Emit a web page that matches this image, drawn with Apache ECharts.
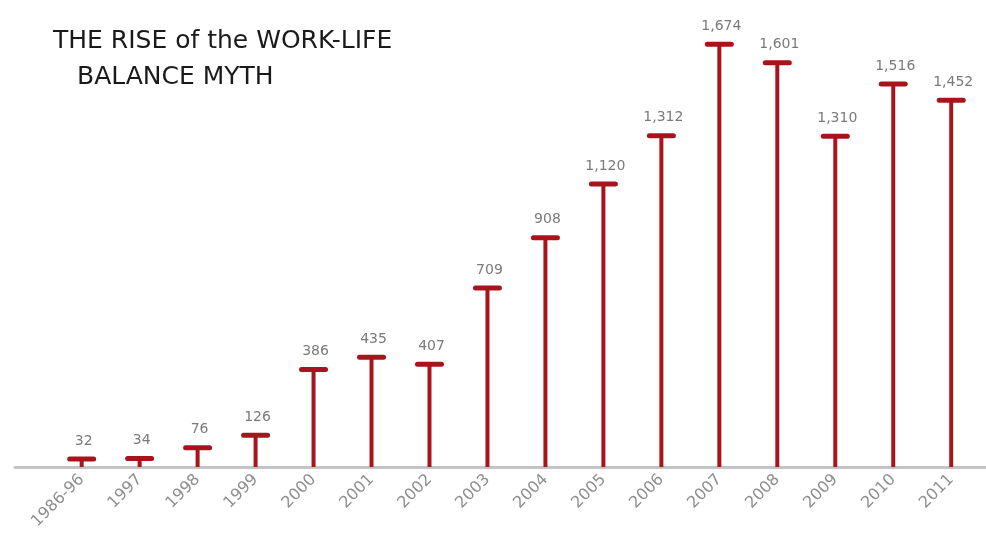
<!DOCTYPE html>
<html>
<head>
<meta charset="utf-8">
<script src="https://cdn.jsdelivr.net/npm/echarts@6/dist/echarts.min.js"></script>
<style>html,body{margin:0;padding:0;background:#fff}#c{width:986px;height:556px}</style>
</head>
<body>
<div id="c"></div>
<script>
const categories = ['1986-96','1997','1998','1999','2000','2001','2002','2003','2004','2005','2006','2007','2008','2009','2010','2011'];
const values = [32,34,76,126,386,435,407,709,908,1120,1312,1674,1601,1310,1516,1452];
const titleLine1 = 'THE RISE of the WORK-LIFE';
const titleLine2 = 'BALANCE MYTH';

const RED = '#a8141c';
const chart = echarts.init(document.getElementById('c'));
const seriesData = values.map((v, i) => [i, v]);
const fmt = v => v.toLocaleString('en-US');

chart.setOption({
  backgroundColor: '#fff',
  animation: false,
  title: [
    { text: titleLine1, left: 48, top: 24,
      textStyle: { fontFamily: 'DejaVu Sans', fontSize: 25, fontWeight: 'normal', color: '#1a1a1a' } },
    { text: titleLine2, left: 72, top: 60,
      textStyle: { fontFamily: 'DejaVu Sans', fontSize: 25, fontWeight: 'normal', color: '#1a1a1a' } }
  ],
  grid: { left: 15, right: 0, top: 25, bottom: 89, containLabel: false },
  xAxis: {
    type: 'value', min: -1.15, max: 15.6,
    splitLine: { show: false },
    axisLine: { show: true, onZero: false, lineStyle: { color: '#c4c4c4', width: 3 } },
    axisTick: { show: false },
    axisLabel: {
      customValues: categories.map((c, i) => i),
      formatter: v => categories[Math.round(v)] || '',
      rotate: 45, color: '#8e8e8e', fontFamily: 'DejaVu Sans', fontSize: 16, margin: 10
    }
  },
  yAxis: {
    type: 'value', min: 0, max: 1750, show: false, splitLine: { show: false }
  },
  series: [{
    type: 'custom',
    data: seriesData,
    renderItem: function (params, api) {
      const x = api.value(0), v = api.value(1);
      const base = api.coord([x, 0]);
      const top = api.coord([x, v]);
      return {
        type: 'group',
        children: [
          { type: 'line', shape: { x1: base[0], y1: base[1], x2: top[0], y2: top[1] },
            style: { stroke: RED, lineWidth: 4, lineCap: 'butt' } },
          { type: 'line', shape: { x1: top[0] - 12, y1: top[1], x2: top[0] + 12, y2: top[1] },
            style: { stroke: RED, lineWidth: 5, lineCap: 'round' } },
          { type: 'text', x: top[0] + 2, y: top[1] - 11,
            style: { text: fmt(v), align: 'center', verticalAlign: 'bottom',
              fill: '#7a7a7a', font: '14px "DejaVu Sans"' } }
        ]
      };
    }
  }]
});
</script>
</body>
</html>
